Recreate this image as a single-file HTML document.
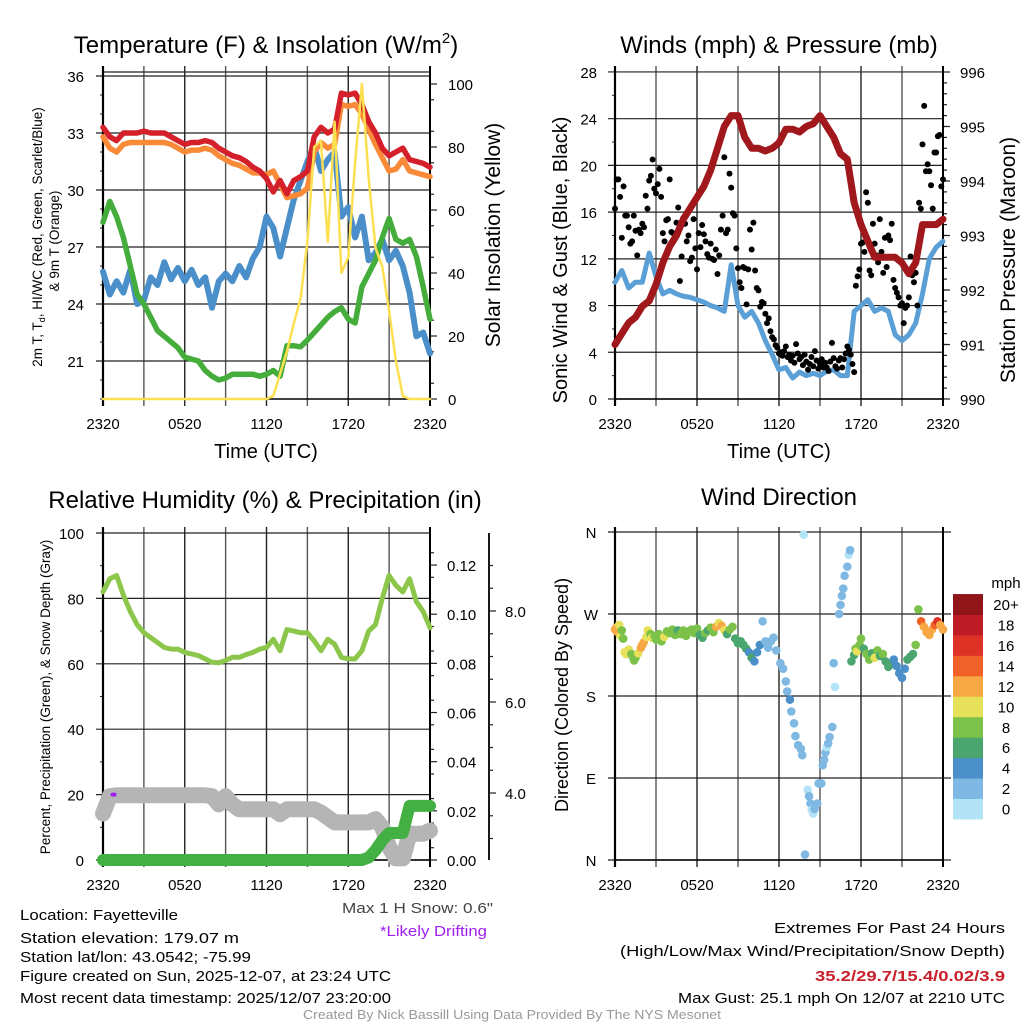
<!DOCTYPE html>
<html><head><meta charset="utf-8"><style>
html,body{margin:0;padding:0;background:#fff;}
svg{display:block;font-family:"Liberation Sans",Arial,sans-serif;}
</style></head><body>
<svg id="fig" width="1024" height="1024" viewBox="0 0 1024 1024" xmlns="http://www.w3.org/2000/svg">
<rect width="1024" height="1024" fill="#fff"/>
<g id="gTL"></g>
<g id="gTR"></g>
<g id="gBL"></g>
<g id="gBR"></g>

<text x="266" y="53" font-size="24" text-anchor="middle">Temperature (F) &amp; Insolation (W/m<tspan font-size="15" dy="-10">2</tspan><tspan dy="10">)</tspan></text>
<text x="779" y="53" font-size="24" text-anchor="middle">Winds (mph) &amp; Pressure (mb)</text>
<text x="265" y="508" font-size="24" text-anchor="middle">Relative Humidity (%) &amp; Precipitation (in)</text>
<text x="779" y="505" font-size="24" text-anchor="middle">Wind Direction</text>

<text x="266" y="458" font-size="20" text-anchor="middle">Time (UTC)</text>
<text x="779" y="458" font-size="20" text-anchor="middle">Time (UTC)</text>

<text transform="translate(42,237) rotate(-90)" font-size="13.5" text-anchor="middle">2m T, T<tspan font-size="9" dy="3">d</tspan><tspan dy="-3">, HI/WC (Red, Green, Scarlet/Blue)</tspan></text>
<text transform="translate(59,241) rotate(-90)" font-size="13.5" text-anchor="middle">&amp; 9m T (Orange)</text>
<text transform="translate(500,235) rotate(-90)" font-size="21" text-anchor="middle">Solar Insolation (Yellow)</text>
<text transform="translate(567,260) rotate(-90)" font-size="20" text-anchor="middle">Sonic Wind &amp; Gust (Blue, Black)</text>
<text transform="translate(1015,260) rotate(-90)" font-size="21" text-anchor="middle">Station Pressure (Maroon)</text>
<text transform="translate(50,697) rotate(-90)" font-size="13.5" text-anchor="middle">Percent, Precipitation (Green), &amp; Snow Depth (Gray)</text>
<text transform="translate(568,695) rotate(-90)" font-size="18" text-anchor="middle">Direction (Colored By Speed)</text>

<g font-size="15">
<text x="20" y="920" textLength="158" lengthAdjust="spacingAndGlyphs">Location: Fayetteville</text>
<text x="20" y="943" textLength="219" lengthAdjust="spacingAndGlyphs">Station elevation: 179.07 m</text>
<text x="20" y="962" textLength="231" lengthAdjust="spacingAndGlyphs">Station lat/lon: 43.0542; -75.99</text>
<text x="20" y="981" textLength="371" lengthAdjust="spacingAndGlyphs">Figure created on Sun, 2025-12-07, at 23:24 UTC</text>
<text x="20" y="1003" textLength="371" lengthAdjust="spacingAndGlyphs">Most recent data timestamp: 2025/12/07 23:20:00</text>
</g>
<text x="342" y="913" font-size="15" fill="#444" textLength="151" lengthAdjust="spacingAndGlyphs">Max 1 H Snow: 0.6"</text>
<text x="380" y="936" font-size="15" fill="#a020f0" textLength="107" lengthAdjust="spacingAndGlyphs">*Likely Drifting</text>
<text x="1005" y="933" font-size="15" text-anchor="end" textLength="231" lengthAdjust="spacingAndGlyphs">Extremes For Past 24 Hours</text>
<text x="1005" y="956" font-size="15" text-anchor="end" textLength="385" lengthAdjust="spacingAndGlyphs">(High/Low/Max Wind/Precipitation/Snow Depth)</text>
<text x="1005" y="981" font-size="15" font-weight="bold" fill="#c8202a" text-anchor="end" textLength="190" lengthAdjust="spacingAndGlyphs">35.2/29.7/15.4/0.02/3.9</text>
<text x="1005" y="1003" font-size="15" text-anchor="end" textLength="327" lengthAdjust="spacingAndGlyphs">Max Gust: 25.1 mph On 12/07 at 2210 UTC</text>
<text x="512" y="1019" font-size="13" fill="#999" text-anchor="middle" textLength="418" lengthAdjust="spacingAndGlyphs">Created By Nick Bassill Using Data Provided By The NYS Mesonet</text>
</svg>
<script>
// ---- data (30-min samples, hours 0..24 from 2320 UTC) ----
const xTickLabels = ["2320","0520","1120","1720","2320"];
const tempRed = [33.3,32.8,32.6,33.0,33.0,33.0,33.1,33.0,33.0,33.0,32.8,32.6,32.4,32.5,32.5,32.6,32.5,32.2,32.0,31.8,31.7,31.5,31.2,31.0,30.6,29.9,30.5,29.8,30.5,30.7,31.0,32.8,33.3,33.0,33.2,35.1,35.0,35.1,34.5,33.6,33.0,32.2,31.8,32.0,32.2,31.6,31.5,31.4,31.2];
const temp9m = [32.8,32.2,32.0,32.4,32.5,32.5,32.5,32.5,32.5,32.5,32.4,32.2,32.0,32.1,32.1,32.2,32.1,31.8,31.6,31.4,31.3,31.1,30.9,30.9,30.8,31.0,30.3,29.6,29.7,29.8,30.1,32.0,32.5,32.2,32.4,34.5,34.4,34.5,34.0,33.2,32.4,31.7,31.0,31.1,31.6,31.0,30.9,30.8,30.7];
const dewpoint = [28.3,29.4,28.6,27.5,26.0,24.5,24.0,23.3,22.6,22.3,22.0,21.7,21.2,21.1,21.0,20.5,20.2,20.0,20.1,20.3,20.3,20.3,20.3,20.2,20.3,20.5,20.2,21.8,21.8,21.75,22.1,22.5,22.9,23.3,23.6,23.8,23.2,23.0,24.9,25.6,26.3,27.5,28.5,27.4,27.2,27.4,26.5,24.9,23.2];
const windChill = [25.7,24.5,25.2,24.6,25.8,24.0,24.2,25.4,25.0,26.2,25.3,25.9,25.2,25.8,25.0,25.4,23.8,25.2,25.6,25.2,26.0,25.4,26.4,27.0,28.6,28.0,26.5,28.0,29.5,30.5,31.5,32.3,31.0,31.6,32.0,28.6,29.1,27.5,28.6,26.3,26.7,27.4,26.3,26.8,26.0,24.6,22.3,22.5,21.4];
const insolation = [0,0,0,0,0,0,0,0,0,0,0,0,0,0,0,0,0,0,0,0,0,0,0,0,0,1,8,15,24,32,50,80,82,50,88,40,45,75,100,70,48,42,28,12,1,0,0,0,0];
const windSpeed = [10,11,9.5,10,10,12.5,10.5,9,9.3,9,8.8,8.7,8.5,8.3,8,7.8,7.5,11.5,8,7,7.5,6.5,5,3.8,2.5,2.7,1.8,2.3,2,2.2,2,2.4,2.5,2,2,7.5,8,8.5,7.5,7.8,7.5,5.5,5,5.5,6.5,9,12,13,13.5];
const pressure = [991.0,991.2,991.4,991.5,991.7,991.8,992.1,992.5,992.8,993.0,993.3,993.5,993.7,993.9,994.2,994.6,995.0,995.2,995.2,994.8,994.6,994.6,994.55,994.6,994.7,994.95,994.95,994.9,995.0,995.05,995.2,995.0,994.8,994.5,994.4,993.6,993.2,992.9,992.6,992.6,992.6,992.6,992.5,992.3,992.5,993.2,993.2,993.2,993.3];
const gusts = [16.3,18.8,18.8,17.3,13.8,18.2,15.7,15.7,14.7,13.3,13.5,15.7,14.4,12.3,14.5,14.2,15.0,14.7,17.4,16.3,18.7,19.1,20.5,18.0,17.6,18.4,19.7,17.3,14.2,13.5,15.3,15.4,18.8,14.3,14.2,13.7,15.1,16.4,10.1,12.2,15.5,15.0,13.5,14.0,11.8,12.1,15.4,12.9,11.1,14.2,13.0,14.9,14.1,13.5,12.4,12.1,13.3,12.0,11.9,12.8,10.7,12.3,14.5,15.7,20.7,14.2,14.5,19.3,18.1,15.9,15.7,12.9,11.2,10.0,9.5,11.3,11.2,8.1,11.1,14.5,12.8,15.1,11.0,9.5,9.3,7.9,8.3,8.2,7.3,6.5,6.9,5.8,5.3,5.1,4.6,4.4,3.9,4.0,3.7,4.1,4.5,3.6,3.8,3.3,3.7,3.1,4.7,3.9,3.4,3.6,2.9,3.8,3.2,2.5,3.0,3.6,2.8,4.1,3.3,2.6,3.0,3.4,2.7,3.1,2.7,2.4,3.2,4.8,3.5,2.8,2.6,3.3,3.5,2.7,3.4,3.9,4.5,4.2,3.8,3.0,2.3,9.7,10.5,11.1,13.3,13.4,12.6,17.7,16.8,11.0,10.6,15.0,13.3,12.3,11.7,15.4,12.6,10.8,13.8,11.3,14.0,13.6,15.0,10.2,9.5,9.1,8.7,8.0,8.2,6.5,7.8,8.0,8.7,12.2,10.6,10.0,10.8,8.0,16.8,16.3,21.8,25.1,19.5,20.1,19.5,18.3,16.3,21.1,21.1,22.5,22.6,18.2,18.8];
const relHumidity = [82,86,87,81,76,72,69.5,68,66.5,65,64.5,64.5,63.5,63,62.5,61.5,60.5,60.3,61,62,62,62.8,63.5,64.5,65,67.5,64,70.5,70,69.5,69.5,67,64,67.5,66,62,61.5,61.5,64,70,72,80,87,84,82,86,79,76,71];
const precip = [0,0,0,0,0,0,0,0,0,0,0,0,0,0,0,0,0,0,0,0,0,0,0,0,0,0,0,0,0,0,0,0,0,0,0,0,0,0,0,0.001,0.004,0.008,0.011,0.011,0.011,0.022,0.022,0.022,0.022];
const snowPct = [14.2,19.5,19.8,19.8,19.8,19.8,19.8,19.8,19.8,19.8,19.8,19.8,19.8,19.8,19.8,19.8,19.5,17,19.5,17,15.5,15.5,15.5,15.5,15.5,15.5,14,15.5,15.5,15.5,15.5,15.5,14.5,13,11.5,11.5,11.5,11.5,11.5,11.5,12.5,10,4,0.5,0.5,8,8,8,9];
const dirHours = [0,0.1,0.2,0.3,0.4,0.5,0.6,0.7,0.8,0.9,1.0,1.2,1.3,1.4,1.5,1.7,1.9,2.0,2.1,2.3,2.4,2.6,2.7,2.9,3.0,3.2,3.4,3.6,3.8,4.0,4.2,4.4,4.6,4.8,5.0,5.2,5.4,5.6,5.8,6.0,6.2,6.4,6.6,6.8,7.0,7.2,7.4,7.6,7.8,8.0,8.2,8.4,8.6,8.8,9.0,9.2,9.4,9.6,9.8,10.0,10.2,10.4,10.6,10.8,11.0,11.2,11.4,11.6,11.8,12.1,12.3,12.5,12.6,12.8,12.9,13.1,13.2,13.4,13.6,13.7,13.8,13.9,14.1,14.2,14.3,14.4,14.5,14.6,14.8,14.9,15.1,15.2,15.3,15.4,15.5,15.6,15.7,15.9,16.0,16.1,16.4,16.5,16.6,16.7,16.8,17.0,17.1,17.2,17.3,17.5,17.6,17.7,17.9,18.0,18.2,18.4,18.6,18.8,19.0,19.2,19.4,19.6,19.8,20.0,20.2,20.4,20.6,20.8,21.0,21.2,21.4,21.6,21.8,22.0,22.2,22.4,22.6,22.8,23.0,23.2,23.4,23.6,23.8,24.0];
const dirDegrees = [253,255,250,258,246,252,243,228,226,229,231,226,223,219,222,227,233,236,239,245,252,248,244,246,242,248,240,245,251,249,253,247,252,248,252,246,251,253,249,254,247,244,249,252,255,250,256,260,257,252,248,253,256,243,238,240,236,232,228,222,218,228,236,262,240,233,240,244,230,216,210,196,185,176,163,150,136,126,122,115,357,6,77,70,62,55,51,56,62,84,84,104,110,118,124,128,135,146,216,190,270,280,290,298,312,322,335,340,218,225,232,229,236,243,232,226,220,227,222,230,224,226,218,212,215,220,213,205,200,210,220,223,226,236,275,262,256,250,247,253,258,262,258,253,252];
const dirSpeeds = [12,13,12,10,10,8,8,10,10,11,10,9,8,8,8,10,12,13,13,11,10,9,10,8,9,8,8,10,8,8,8,8,7,8,8,8,8,8,8,8,7,7,8,7,8,8,12,10,12,10,7,8,8,7,6,7,6,6,5,6,4,4,4,2,3,3,3,3,3,2,2,2,3,4,2,2,2,2,2,2,0,2,1,2,2,1,0,2,2,3,2,2,2,2,1,2,2,2,2,0,2,2,2,2,2,2,0,2,6,7,8,10,8,8,7,9,8,7,10,8,7,8,7,6,6,5,4,4,4,4,6,6,6,8,8,15,12,12,13,12,14,16,12,13,12];
const speedColors = ["#b3e3f7","#7fb9e3","#4a8fc7","#4aa56f","#7cc24a","#e6e05a","#f7a845","#ef6128","#de3226","#bd1c26","#8f1519"];
const speedLabels = ["0","2","4","6","8","10","12","14","16","18","20+"];
const tempTicks = [21,24,27,30,33,36];
const insolTicks = [0,20,40,60,80,100];
const windTicks = [0,4,8,12,16,20,24,28];
const pressTicks = [990,991,992,993,994,995,996];
const pctTicks = [0,20,40,60,80,100];
const precipTicks = [0,0.02,0.04,0.06,0.08,0.10,0.12];
const snowTicks = [4,6,8];
const dirTicks = ["N","E","S","W","N"];

const NS="http://www.w3.org/2000/svg";
function mk(parent,tag,attrs){const e=document.createElementNS(NS,tag);for(const k in attrs)e.setAttribute(k,attrs[k]);parent.appendChild(e);return e;}
function xScale(x0,x1){return h=>x0+(x1-x0)*h/24;}
function hourOf(i,n){return 24*i/(n-1);}
function pathFrom(vals,xs,ys){let d="";vals.forEach((v,i)=>{d+=(i?"L":"M")+xs(hourOf(i,vals.length)).toFixed(1)+","+ys(v).toFixed(1);});return d;}

function frame(g,x0,x1,yT,yB){
  for(let k=0;k<=8;k++){const x=x0+(x1-x0)*k/8;
    const l=mk(g,'line',{x1:x,x2:x,y1:yT-6,y2:yB+7,stroke:k%2?'#555':'#222','stroke-width':1.4});
    }
  xTickLabels.forEach((s,i)=>{const t=mk(g,'text',{x:x0+(x1-x0)*i/4,y:yB+30,'font-size':15,'text-anchor':'middle'});t.textContent=s;
    });
}
function hgrid(g,x0,x1,y,lab,lx){const l=mk(g,'line',{x1:x0-7,x2:x1,y1:y,y2:y,stroke:'#222','stroke-width':1.2});
  
  if(lab!==null){const t=mk(g,'text',{x:lx,y:y+6,'font-size':15,'text-anchor':'end'});t.textContent=lab;
  }}
function rtick(g,x,y,lab,len,lx){mk(g,'line',{x1:x,x2:x+len,y1:y,y2:y,stroke:'#222','stroke-width':1.2});
  if(lab!==null){const t=mk(g,'text',{x:lx,y:y+6,'font-size':15});t.textContent=lab;
  }}
function border(g,x0,x1,yT,yB){mk(g,'line',{x1:x0,x2:x0,y1:yT-6,y2:yB+7,stroke:'#000','stroke-width':2.2});
  mk(g,'line',{x1:x1,x2:x1,y1:yT-6,y2:yB+7,stroke:'#000','stroke-width':2});
  mk(g,'line',{x1:x0,x2:x1,y1:yB,y2:yB,stroke:'#000','stroke-width':1.5});}
function line(g,vals,xs,ys,color,w,name){const p=mk(g,'path',{d:pathFrom(vals,xs,ys),fill:'none',stroke:color,'stroke-width':w,'stroke-linejoin':'round','stroke-linecap':'round'});
  return p;}

// ---------- Top-left ----------
(function(){const g=document.getElementById('gTL');const x0=103,x1=430,yT=72,yB=399;
  const xs=xScale(x0,x1);const yT_=v=>76+(36-v)*19;const yI=v=>399-v*3.15;
  frame(g,x0,x1,yT,yB);
  mk(g,'line',{x1:x0,x2:x1,y1:72,y2:72,stroke:'#222','stroke-width':1.2});
  tempTicks.forEach(v=>hgrid(g,x0,x1,yT_(v),String(v),84));
  for(let v=19;v<=36;v++)mk(g,'line',{x1:x0-3,x2:x0,y1:yT_(v),y2:yT_(v),stroke:'#222'});
  insolTicks.forEach(v=>rtick(g,x1,yI(v),String(v),7,448));
  for(let v=5;v<=100;v+=10)rtick(g,x1,yI(v),null,4,0);
  border(g,x0,x1,yT,yB);
  line(g,windChill,xs,yT_,'#4a8fc9',6,'heat-index-windchill-line');
  line(g,dewpoint,xs,yT_,'#45ad3b',5.5,'dewpoint-line');
  line(g,temp9m,xs,yT_,'#f98b38',5.5,'temp-9m-line');
  line(g,tempRed,xs,yT_,'#d4202a',5.5,'temp-2m-line');
  line(g,insolation,xs,yI,'#fde051',2.5,'insolation-line');
})();

// ---------- Top-right ----------
(function(){const g=document.getElementById('gTR');const x0=615,x1=943,yT=72,yB=399;
  const xs=xScale(x0,x1);const yW=v=>399-v*11.68;const yP=p=>399-(p-990)*54.5;
  frame(g,x0,x1,yT,yB);
  windTicks.forEach(v=>hgrid(g,x0,x1,yW(v),String(v),597));
  for(let v=2;v<28;v+=4)mk(g,'line',{x1:x0-3,x2:x0,y1:yW(v),y2:yW(v),stroke:'#222'});
  pressTicks.forEach(v=>rtick(g,x1,yP(v),String(v),7,960));
  for(let v=990.2;v<996;v+=0.2)rtick(g,x1,yP(v),null,4,0);
  border(g,x0,x1,yT,yB);
  line(g,windSpeed,xs,yW,'#5a9fd6',5,'sonic-wind-line');
  gusts.forEach((v,i)=>{const c=mk(g,'circle',{cx:xs(hourOf(i,gusts.length)),cy:yW(v),r:3,fill:'#000'});
    });
  line(g,pressure,xs,yP,'#a0181c',7,'pressure-line');
})();

// ---------- Bottom-left ----------
(function(){const g=document.getElementById('gBL');const x0=103,x1=430,yT=533,yB=860;
  const xs=xScale(x0,x1);const yPc=v=>860-v*3.27;const yPr=v=>860-v*2458;const ySn=v=>975-v*45.5;
  frame(g,x0,x1,yT,yB);
  pctTicks.forEach(v=>hgrid(g,x0,x1,yPc(v),String(v),84));
  for(let v=10;v<100;v+=20)mk(g,'line',{x1:x0-3,x2:x0,y1:yPc(v),y2:yPc(v),stroke:'#222'});
  precipTicks.forEach(v=>rtick(g,x1,yPr(v),v.toFixed(2),7,447));
  for(let v=0.005;v<0.13;v+=0.01)rtick(g,x1,yPr(v),null,4,0);
  mk(g,'line',{x1:489,x2:489,y1:533,y2:860,stroke:'#000','stroke-width':1.8});
  snowTicks.forEach(v=>rtick(g,489,ySn(v),v.toFixed(1),7,505));
  for(let v=3;v<=9;v+=0.5)if(v%2)rtick(g,489,ySn(v),null,4,0);
  border(g,x0,x1,yT,yB);
  line(g,snowPct,xs,yPc,'#b5b5b5',16,'snow-depth-line');
  const pm=mk(g,'line',{x1:xs(0.7),x2:xs(0.85),y1:yPc(20),y2:yPc(20),stroke:'#a020f0','stroke-width':4,'stroke-linecap':'round'});
  
  line(g,precip,xs,yPr,'#43b043',12,'precip-line');
  line(g,relHumidity,xs,yPc,'#8cc64a',5,'humidity-line');
})();

// ---------- Bottom-right ----------
(function(){const g=document.getElementById('gBR');const x0=615,x1=943,yT=533,yB=860;
  const xs=xScale(x0,x1);const yD=d=>860-d*328/360;
  frame(g,x0,x1,yT,yB);
  dirTicks.forEach((s,i)=>{const y=yD(i*90);hgrid(g,x0,x1+8,y,null,0);
    const t=mk(g,'text',{x:591,y:y+6,'font-size':15,'text-anchor':'middle'});t.textContent=s;
    });
  border(g,x0,x1,yT,yB);
  dirHours.forEach((h,i)=>{const s=dirSpeeds[i];const ci=Math.min(10,Math.floor(s/2));
    const c=mk(g,'circle',{cx:xs(h),cy:yD(dirDegrees[i]),r:4.3,fill:speedColors[ci]});
    });
  const cb=mk(g,'g',{});
  const t0=mk(cb,'text',{x:1006,y:588,'font-size':15,'text-anchor':'middle'});t0.textContent='mph';
  speedColors.forEach((c,i)=>{const y=819-(i+1)*20.45;
    const r=mk(cb,'rect',{x:953,y:y,width:30,height:20.9,fill:c});
    
    const t=mk(cb,'text',{x:1006,y:y+16,'font-size':15,'text-anchor':'middle'});t.textContent=speedLabels[i];
    });
})();
</script>
</body></html>
